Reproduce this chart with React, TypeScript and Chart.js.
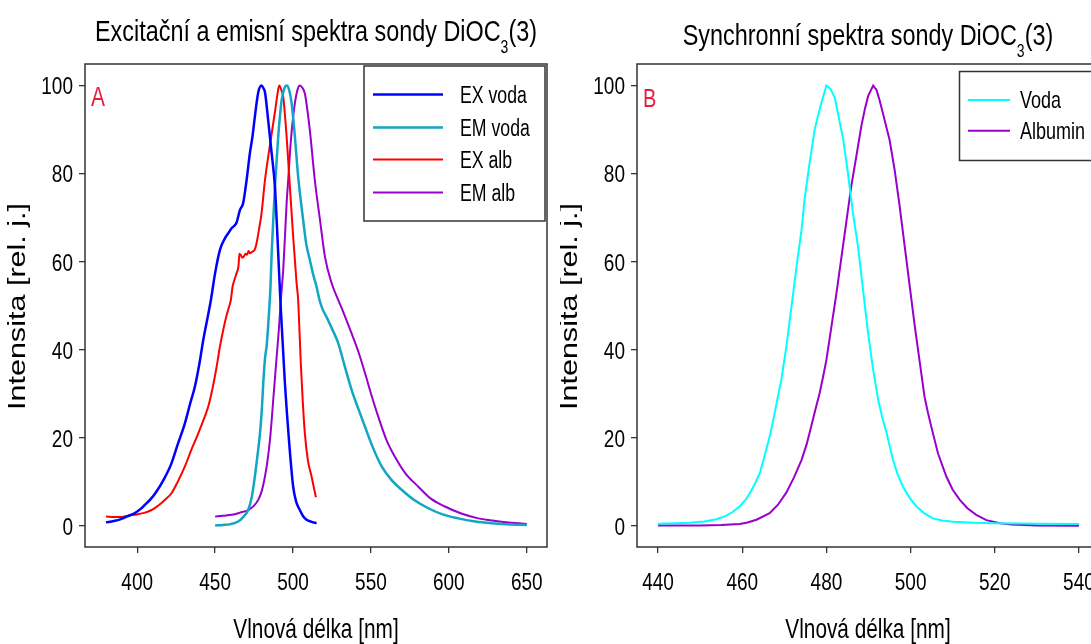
import React, { useEffect, useRef } from "react";
import { Chart, registerables } from "chart.js";

Chart.register(...registerables);

// ---------------- data ----------------
const TITLE_A = "Excitační a emisní spektra sondy DiOC";
const TITLE_B = "Synchronní spektra sondy DiOC";
const TITLE_SUB = "3";
const TITLE_TAIL = "(3)";
const X_TITLE = "Vlnová délka [nm]";
const Y_TITLE = "Intensita [rel. j.]";
const PANEL_A = "A";
const PANEL_B = "B";

const X_TICKS_A = [400, 450, 500, 550, 600, 650];
const X_TICKS_B = [440, 460, 480, 500, 520, 540];
const Y_TICKS = [0, 20, 40, 60, 80, 100];

const LEGEND_A = ["EX voda", "EM voda", "EX alb", "EM alb"];
const LEGEND_B = ["Voda", "Albumin"];

const EX_VODA: [number, number][] = [
  [380, 0.8], [385, 1.1], [390, 1.6], [394, 2.2], [398.5, 2.9], [402, 3.8], [405, 4.8], [408.5, 6.0],
  [412.4, 7.8], [417, 10.5], [422, 14.2], [426, 18.5], [430.6, 23.3], [434, 27.8], [437, 31.6], [440, 37],
  [442.4, 42.2], [445, 47], [447.3, 51.3], [450, 57.4], [453.1, 62.7], [456.3, 65.3], [458.5, 66.5],
  [460.6, 67.6], [462.2, 68.1], [463.8, 68.9], [465.9, 71.7], [468, 73.3], [470.2, 78.5], [472.3, 84.6],
  [474, 88.5], [475.5, 92.9], [477.7, 98.5], [479.8, 100], [481, 99.4], [482, 98.5], [484.1, 92],
  [486.3, 84.6], [488.4, 77], [489.5, 69.5], [491, 58], [492.2, 49], [493.3, 42], [494.8, 32.4],
  [497.4, 19.5], [500.1, 8.9], [502, 5.5], [504.4, 3.6], [506.5, 2.2], [508.7, 1.4], [512, 0.9], [515.1, 0.6],
];

const EM_VODA: [number, number][] = [
  [450, 0.1], [455, 0.2], [460, 0.4], [464.8, 1], [468, 2], [471.2, 3.6], [473.5, 6.5], [475.5, 11.2],
  [477.2, 16], [478.8, 21], [480, 26.5], [480.9, 32.4], [482, 38], [483.1, 41], [484.7, 49], [485.5, 54],
  [486.3, 61.9], [487.4, 70], [488.4, 77], [489.5, 83], [490.5, 88.4], [491.6, 93], [492.7, 96.7],
  [494.3, 99.2], [495.9, 100], [497.5, 99], [499.1, 96], [501.2, 88.4], [503.3, 79.3], [506.5, 69.5],
  [508.5, 64], [510.8, 60.4], [513, 57], [515.1, 54.3], [517, 51.3], [519.2, 49], [521, 47.8], [525, 44.8],
  [529, 41.5], [533, 36.5], [537.6, 30.9], [542, 26.5], [546.2, 22.5], [551, 18], [556.9, 13.5], [563, 10.5],
  [569.7, 8.2], [578, 5.8], [586.8, 4], [596, 2.6], [606, 1.7], [617, 1.0], [627.5, 0.6], [640, 0.3], [650, 0.2],
];

const EX_ALB: [number, number][] = [
  [380, 2.1], [385, 2.0], [390, 2.0], [394.2, 2.3], [400, 2.6], [405, 3.0], [409.2, 3.6], [412, 4.2],
  [415, 5.0], [418, 6.0], [422, 7.4], [426, 10.0], [430.6, 13.5], [435, 17.5], [439.2, 21], [442.5, 24],
  [445.6, 27.1], [448.5, 31.5], [451, 36.2], [453, 40.5], [455.2, 44.5], [457.5, 48], [459, 49.8],
  [460.1, 51.3], [461.2, 54.3], [462.5, 56], [463.8, 57.4], [465, 59], [465.6, 61.8], [466.5, 61.5],
  [467.5, 60.9], [468.5, 61.2], [469.5, 61.8], [470.5, 61.6], [471.5, 62.4], [472.5, 61.9], [473.5, 62.2],
  [474.5, 62.4], [475.5, 62.8], [476.6, 64.2], [478, 67], [479.8, 71], [482, 78.5], [485.2, 86.5],
  [488.4, 94], [490, 98], [491.1, 100], [492.5, 99], [493.7, 97.5], [495.9, 88.4], [498, 77], [500.1, 65.7],
  [502.3, 55.1], [503.3, 51.3], [504, 45.5], [505.1, 36.2], [506.3, 28], [507.6, 21], [509.5, 15],
  [511.9, 11.2], [513.5, 8.5], [514.7, 6.5],
];

const EM_ALB: [number, number][] = [
  [450, 2.1], [455, 2.3], [460.6, 2.5], [466, 3.0], [471.2, 3.6], [475, 4.6], [477.7, 5.9], [480, 8],
  [482, 11.2], [483.7, 15], [485.2, 19.5], [486.3, 24], [487.3, 28.6], [488.4, 33.5], [489.5, 38.4],
  [491, 45], [492.2, 51.3], [493.7, 58.1], [494.8, 65.5], [495.9, 73.3], [497, 79], [498, 84.6], [499.5, 91],
  [501.2, 96], [503, 99.2], [504.4, 100], [506, 99.5], [507.6, 98.2], [509.2, 94.5], [510.8, 89.9],
  [514, 78.5], [517.3, 69.5], [520.5, 61.1], [524.8, 55.1], [529, 51.3], [532, 48.8], [537.6, 43.7],
  [542, 39.5], [546.2, 34.7], [550.5, 29.5], [554.7, 24.8], [560, 19.5], [565.4, 15.7], [572, 12],
  [580.4, 8.9], [588, 6.3], [597.5, 4.4], [608, 2.8], [618.9, 1.7], [630, 1.1], [640, 0.7], [650, 0.45],
];

const SYN_VODA: [number, number][] = [
  [440, 0.5], [444, 0.6], [447.5, 0.7], [451, 1.0], [453.9, 1.5], [456, 2.2], [457.8, 3.2], [459.4, 4.4],
  [461, 6.2], [461.8, 7.4], [463, 9.5], [464.2, 12], [465.7, 17.3], [466.7, 21], [467.7, 25.6], [468.5, 29.5],
  [469.3, 33.2], [470.5, 40.8], [471.7, 49.8], [472.9, 58.9], [474.1, 67.3], [474.8, 74.1], [476, 82.4],
  [477.2, 90], [478.5, 95], [479.3, 97.7], [480, 100], [481, 99.2], [482, 97.2], [483, 92.5], [484, 87.7],
  [485.1, 80.2], [486.3, 71.1], [487.5, 63.5], [488.7, 53.6], [489.9, 43.8], [491.1, 35.5], [492.3, 28.6],
  [493.3, 24.5], [494.3, 21.1], [495.8, 15], [497, 11.5], [498.2, 8.9], [499.8, 6.3], [501.4, 4.4],
  [503.2, 2.9], [505.3, 1.7], [507.5, 1.2], [510.1, 0.95], [515, 0.7], [520, 0.6], [530, 0.5], [540, 0.45],
];

const SYN_ALB: [number, number][] = [
  [440, 0.1], [450, 0.1], [455, 0.2], [459.4, 0.4], [461, 0.7], [463.4, 1.4], [466.5, 2.9], [468.5, 4.8],
  [470.5, 7.6], [472.3, 11], [474.1, 15], [475.3, 18.5], [476.4, 22.6], [477.4, 26.5], [478.4, 30.2],
  [479.2, 33.8], [480, 37.7], [481.2, 45.3], [482.4, 52.9], [483.6, 61.2], [484.8, 69.5], [485.9, 77.1],
  [487.1, 83.9], [488.3, 90.8], [489.1, 94.5], [489.9, 97.6], [491.1, 100], [491.9, 99], [492.6, 96.8],
  [493.4, 93.8], [495, 87.7], [496.2, 80.9], [497.4, 72.6], [498.6, 63.5], [499.8, 54.4], [501, 45.3],
  [502.2, 37], [503.3, 29.4], [504.1, 25.8], [504.9, 22.6], [506.5, 16.5], [508.5, 11.2], [510, 8.2],
  [511.7, 5.9], [513.5, 4], [515.6, 2.5], [518, 1.3], [521.2, 0.6], [524, 0.3], [530, 0.1], [540, 0.05],
];

// ---------------- drawing helpers ----------------
const FONT = '"Liberation Sans", Arial, sans-serif';
const SY = 1.3; // vertical stretch of the lettering

function drawText(
  ctx: CanvasRenderingContext2D,
  s: string,
  x: number,
  y: number,
  size: number,
  align: CanvasTextAlign,
  color = "#000",
  rotated = false
) {
  ctx.save();
  ctx.translate(x, y);
  if (rotated) {
    ctx.rotate(-Math.PI / 2);
    ctx.scale(SY, 1);
  } else {
    ctx.scale(1, SY);
  }
  ctx.font = `${size}px ${FONT}`;
  ctx.textAlign = align;
  ctx.textBaseline = "alphabetic";
  ctx.fillStyle = color;
  ctx.fillText(s, 0, 0);
  ctx.restore();
}

function measure(ctx: CanvasRenderingContext2D, s: string, size: number) {
  ctx.save();
  ctx.font = `${size}px ${FONT}`;
  const w = ctx.measureText(s).width;
  ctx.restore();
  return w;
}

const decorPlugin = {
  id: "decor",
  afterDraw(chart: any, _args: any, o: any) {
    const ctx: CanvasRenderingContext2D = chart.ctx;
    const ca = chart.chartArea;
    const xs = chart.scales.x;
    const ys = chart.scales.y;

    // frame
    ctx.save();
    ctx.strokeStyle = "#333";
    ctx.lineWidth = 1.5;
    ctx.strokeRect(ca.left, ca.top, ca.right - ca.left, ca.bottom - ca.top);
    ctx.restore();

    // tick labels
    const tickSize = 19;
    const cap = 0.716 * tickSize * SY;
    xs.ticks.forEach((t: any) => {
      drawText(ctx, String(t.value), xs.getPixelForValue(t.value), ca.bottom + 43, tickSize, "center");
    });
    ys.ticks.forEach((t: any) => {
      drawText(ctx, String(t.value), ca.left - 12, ys.getPixelForValue(t.value) + cap / 2, tickSize, "right");
    });

    // title with subscript
    const ts = 23.4;
    const ss = 14;
    const w1 = measure(ctx, o.title, ts);
    const w2 = measure(ctx, TITLE_SUB, ss);
    const w3 = measure(ctx, TITLE_TAIL, ts);
    let x0 = o.titleX - (w1 + w2 + w3) / 2;
    drawText(ctx, o.title, x0, o.titleY, ts, "left");
    drawText(ctx, TITLE_SUB, x0 + w1, o.titleY + 12, ss, "left");
    drawText(ctx, TITLE_TAIL, x0 + w1 + w2, o.titleY, ts, "left");

    // axis titles
    drawText(ctx, X_TITLE, o.xTitleX, ca.bottom + 90.5, 20.8, "center");
    drawText(ctx, Y_TITLE, ca.left - 60, (ca.top + ca.bottom) / 2 + 1, 23.5, "center", "#000", true);

    // panel letter
    drawText(ctx, o.letter, o.letterX, o.letterY, o.letterSize, "left", "#e3203f");

    // legend
    const L = o.legend;
    ctx.save();
    ctx.fillStyle = "#fff";
    ctx.fillRect(L.box[0], L.box[1], L.box[2], L.box[3]);
    ctx.strokeStyle = "#333";
    ctx.lineWidth = 1.5;
    ctx.strokeRect(L.box[0], L.box[1], L.box[2], L.box[3]);
    ctx.restore();
    const lcap = 0.716 * L.size * SY;
    chart.data.datasets.forEach((ds: any, i: number) => {
      const y = L.rows[i];
      ctx.save();
      ctx.strokeStyle = ds.borderColor;
      ctx.lineWidth = ds.borderWidth;
      ctx.beginPath();
      ctx.moveTo(L.x0, y);
      ctx.lineTo(L.x1, y);
      ctx.stroke();
      ctx.restore();
      drawText(ctx, ds.label, L.tx, y + lcap / 2, L.size, "left");
    });
  },
};

function makeConfig(p: any) {
  return {
    type: "line",
    data: { datasets: p.datasets },
    options: {
      animation: false,
      responsive: false,
      events: [],
      layout: { padding: p.padding },
      plugins: {
        legend: { display: false },
        title: { display: false },
        tooltip: { enabled: false },
        decor: p.decor,
      },
      scales: {
        x: {
          type: "linear",
          min: p.xMin,
          max: p.xMax,
          afterBuildTicks: (s: any) => {
            s.ticks = p.xTicks.map((v: number) => ({ value: v }));
          },
          afterFit: (s: any) => {
            s.height = p.xHeight;
          },
          ticks: { display: false },
          border: { display: false },
          grid: { display: true, drawOnChartArea: false, drawTicks: true, tickLength: 6, color: "#333", lineWidth: 1.3 },
        },
        y: {
          type: "linear",
          min: -4.8,
          max: 104.9,
          afterBuildTicks: (s: any) => {
            s.ticks = Y_TICKS.map((v: number) => ({ value: v }));
          },
          afterFit: (s: any) => {
            s.width = p.yWidth;
          },
          ticks: { display: false },
          border: { display: false },
          grid: { display: true, drawOnChartArea: false, drawTicks: true, tickLength: 6, color: "#333", lineWidth: 1.3 },
        },
      },
      elements: { point: { radius: 0 } },
    },
    plugins: [decorPlugin],
  };
}

function series(label: string, pts: [number, number][], color: string, width: number, smooth: boolean) {
  return {
    label,
    data: pts.map(([x, y]) => ({ x, y })),
    borderColor: color,
    backgroundColor: color,
    borderWidth: width,
    pointRadius: 0,
    fill: false,
    cubicInterpolationMode: smooth ? "monotone" : "default",
    tension: 0,
  };
}

function ChartBox({ config, left, width, height }: any) {
  const ref = useRef<HTMLCanvasElement>(null);
  useEffect(() => {
    const c = new Chart(ref.current as HTMLCanvasElement, config);
    return () => c.destroy();
  }, []);
  return (
    <div style={{ position: "absolute", left, top: 0, width, height }}>
      <canvas ref={ref} width={width} height={height} style={{ display: "block" }} />
    </div>
  );
}

export default function App() {
  const cfgA = makeConfig({
    datasets: [
      series(LEGEND_A[0], EX_VODA, "#0000ff", 2.5, true),
      series(LEGEND_A[1], EM_VODA, "#11a6c2", 2.5, true),
      series(LEGEND_A[2], EX_ALB, "#ff0000", 2, true),
      series(LEGEND_A[3], EM_ALB, "#9900cc", 2, true),
    ],
    xMin: 366.5,
    xMax: 663,
    xTicks: X_TICKS_A,
    padding: { left: 0, top: 64, right: 13, bottom: 0 },
    yWidth: 85,
    xHeight: 97,
    decor: {
      title: TITLE_A,
      titleX: 316,
      titleY: 41,
      xTitleX: 316,
      letter: PANEL_A,
      letterX: 91,
      letterY: 105.5,
      letterSize: 21,
      legend: {
        box: [364, 66, 181, 155],
        x0: 373,
        x1: 443,
        tx: 460,
        rows: [94.5, 127.5, 159.5, 192.5],
        size: 17.7,
      },
    },
  });

  const cfgB = makeConfig({
    datasets: [
      series(LEGEND_B[0], SYN_VODA, "#00ffff", 2, false),
      series(LEGEND_B[1], SYN_ALB, "#9900cc", 2, false),
    ],
    xMin: 435,
    xMax: 546.9,
    xTicks: X_TICKS_B,
    padding: { left: 0, top: 64, right: 12, bottom: 0 },
    yWidth: 77,
    xHeight: 97,
    decor: {
      title: TITLE_B,
      titleX: 308,
      titleY: 45,
      xTitleX: 308,
      letter: PANEL_B,
      letterX: 83,
      letterY: 107,
      letterSize: 20,
      legend: {
        box: [399.5, 71.5, 160, 89],
        x0: 408,
        x1: 450,
        tx: 460,
        rows: [100, 130.7],
        size: 18,
      },
    },
  });

  return (
    <div
      style={{
        position: "fixed",
        left: 0,
        top: 0,
        width: 1091,
        height: 644,
        overflow: "hidden",
        background: "#fff",
      }}
    >
      <ChartBox config={cfgA} left={0} width={560} height={644} />
      <ChartBox config={cfgB} left={560} width={560} height={644} />
    </div>
  );
}
